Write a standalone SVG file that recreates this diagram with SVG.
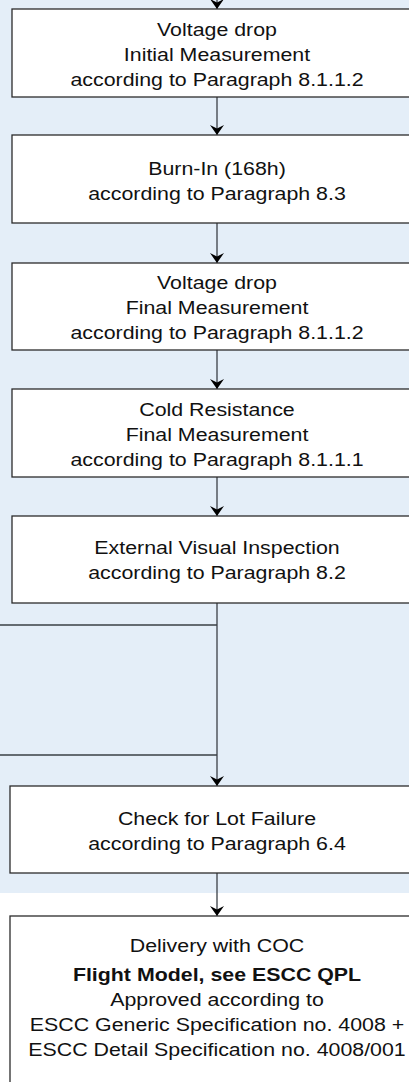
<svg xmlns="http://www.w3.org/2000/svg" width="409" height="1082" viewBox="0 0 409 1082">
<style>
.bg{fill:#e4eef8}
.box{fill:#ffffff;stroke:#2b2b2b;stroke-width:1.3}
.t{font-family:"Liberation Sans",Arial,Helvetica,sans-serif;font-size:18.5px;fill:#111;text-anchor:middle}
.b{font-weight:bold}
.c{fill:none;stroke:#3a3f45;stroke-width:1.3}
</style>
<defs>
<marker id="arr" viewBox="0 0 10 14" refX="10" refY="7" markerWidth="10" markerHeight="14" markerUnits="userSpaceOnUse" orient="auto">
<path d="M0,0 L10,7 L0,14 L3.5,7 Z" fill="#000"/>
</marker>
</defs>
<rect class="bg" x="0" y="0" width="409" height="893"/>
<g id="connectors">
<path class="c" d="M217,-10 V9" marker-end="url(#arr)"/>
<path class="c" d="M217,97 V135" marker-end="url(#arr)"/>
<path class="c" d="M217,223 V263" marker-end="url(#arr)"/>
<path class="c" d="M217,350 V389" marker-end="url(#arr)"/>
<path class="c" d="M217,477 V516" marker-end="url(#arr)"/>
<path class="c" d="M217,603 V786" marker-end="url(#arr)"/>
<path class="c" d="M0,625 H217"/>
<path class="c" d="M0,755 H217"/>
<path class="c" d="M217,873 V916" marker-end="url(#arr)"/>
</g>
<g id="n1">
<rect class="box" x="12" y="9" width="420" height="88"/>
<text class="t" transform="translate(217,0) scale(1.155,1)"><tspan x="0" y="36">Voltage drop</tspan><tspan x="0" y="61">Initial Measurement</tspan><tspan x="0" y="86">according to Paragraph 8.1.1.2</tspan></text>
</g>
<g id="n2">
<rect class="box" x="12" y="135" width="420" height="88"/>
<text class="t" transform="translate(217,0) scale(1.155,1)"><tspan x="0" y="175">Burn-In (168h)</tspan><tspan x="0" y="200">according to Paragraph 8.3</tspan></text>
</g>
<g id="n3">
<rect class="box" x="12" y="263" width="420" height="87"/>
<text class="t" transform="translate(217,0) scale(1.155,1)"><tspan x="0" y="289">Voltage drop</tspan><tspan x="0" y="314">Final Measurement</tspan><tspan x="0" y="339">according to Paragraph 8.1.1.2</tspan></text>
</g>
<g id="n4">
<rect class="box" x="12" y="389" width="420" height="88"/>
<text class="t" transform="translate(217,0) scale(1.155,1)"><tspan x="0" y="416">Cold Resistance</tspan><tspan x="0" y="441">Final Measurement</tspan><tspan x="0" y="466">according to Paragraph 8.1.1.1</tspan></text>
</g>
<g id="n5">
<rect class="box" x="12" y="516" width="420" height="87"/>
<text class="t" transform="translate(217,0) scale(1.155,1)"><tspan x="0" y="554">External Visual Inspection</tspan><tspan x="0" y="579">according to Paragraph 8.2</tspan></text>
</g>
<g id="n6">
<rect class="box" x="10" y="786" width="420" height="87"/>
<text class="t" transform="translate(217,0) scale(1.155,1)"><tspan x="0" y="825">Check for Lot Failure</tspan><tspan x="0" y="850">according to Paragraph 6.4</tspan></text>
</g>
<g id="n7">
<rect class="box" x="10" y="916" width="420" height="200"/>
<text class="t" transform="translate(217,0) scale(1.155,1)"><tspan x="0" y="952">Delivery with COC</tspan><tspan x="0" y="981" class="b">Flight Model, see ESCC QPL</tspan><tspan x="0" y="1006">Approved according to</tspan><tspan x="0" y="1031">ESCC Generic Specification no. 4008 +</tspan><tspan x="0" y="1056">ESCC Detail Specification no. 4008/001</tspan></text>
</g>
</svg>
